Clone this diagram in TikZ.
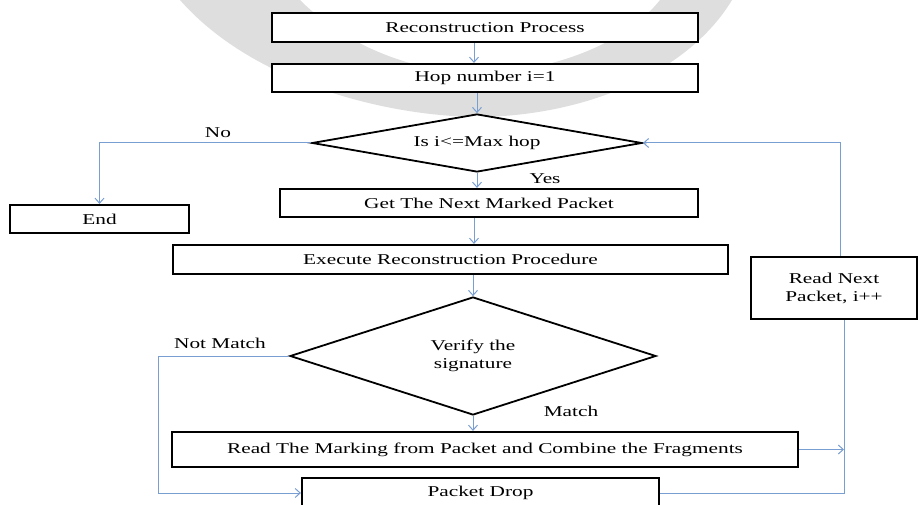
\documentclass[tikz,border=0pt]{standalone}
\usepackage{fontspec}
\setmainfont{Liberation Serif}[FakeStretch=1.42]
\usetikzlibrary{shapes.geometric,arrows.meta}
\definecolor{linkblue}{RGB}{120,158,210}
\definecolor{markgray}{RGB}{222,222,222}
\begin{document}
\begin{tikzpicture}[x=1pt,y=-1pt,
  font=\fontsize{15}{18}\selectfont,
  box/.style={draw=black, line width=2.2pt, fill=white, inner sep=0pt, align=center},
  dia/.style={draw=black, line width=1.8pt, fill=white, diamond, inner sep=0pt, align=center},
  conn/.style={draw=linkblue, line width=1pt, -{Straight Barb[length=5pt,width=9pt]}},
  link/.style={draw=linkblue, line width=1pt},
  lbl/.style={inner sep=0pt}]

\useasboundingbox (0,0) rectangle (918,505);

% faint background emblem
\fill[markgray, even odd rule]
  (180,0) .. controls (250,80) and (380,116) .. (478,117)
          .. controls (590,116) and (690,70) .. (732,0) -- cycle
  (300,0) .. controls (350,50) and (420,72) .. (478,74)
          .. controls (540,72) and (620,50) .. (660,0) -- cycle;

% process boxes
\node[box, minimum width=426pt, minimum height=29pt] (b1) at (485,27.5) {Reconstruction Process};
\node[box, minimum width=426pt, minimum height=28pt] (b2) at (485,78) {Hop number i=1};
\node[box, minimum width=418pt, minimum height=28pt] (b3) at (489,203) {Get The Next Marked Packet};
\node[box, minimum width=555pt, minimum height=29pt] (b4) at (450.5,259.5) {Execute Reconstruction Procedure};
\node[box, minimum width=626pt, minimum height=35pt] (b5) at (485,449.5) {Read The Marking from Packet and Combine the Fragments};
\node[box, minimum width=357pt, minimum height=30pt] (drop) at (480.5,493) {Packet Drop};
\node[box, minimum width=179pt, minimum height=28pt] (endb) at (99.5,219) {End};
\node[box, minimum width=166pt, minimum height=62pt] (rn) at (834,288) {Read Next\\Packet, i++};

% decisions
\node[dia, minimum width=330pt, minimum height=58pt, aspect=5.7] (d1) at (477,143) {Is i<=Max hop};
\node[dia, minimum width=366pt, minimum height=118pt, aspect=3.1] (d2) at (473,356) {Verify the\\signature};

% branch labels
\node[lbl] (lno) at (218,133) {No};
\node[lbl] (lyes) at (545,179) {Yes};
\node[lbl] (lnm) at (220,343) {Not Match};
\node[lbl] (lm) at (571,411) {Match};

% connectors
\coordinate (spine) at (474,0);
\coordinate (nmx) at (158,0);
\coordinate (rlow) at (844,0);
\coordinate (rup) at (840,0);
\draw[conn] (b1.south -| spine) -- (b2.north -| spine);
\draw[conn] (b2.south -| d1.north) -- (d1.north);
\draw[conn] (d1.south) -- (b3.north -| d1.south);
\draw[conn] (b3.south -| spine) -- (b4.north -| spine);
\draw[conn] (b4.south -| d2.north) -- (d2.north);
\draw[conn] (d2.south) -- (b5.north -| d2.south);
\draw[conn] (d1.west) -| (endb.north);
\draw[conn] (d2.west) -| (nmx |- drop.west) -- (drop.west);
\draw[conn] (b5.east) -- (b5.east -| rlow);
\draw[link] (drop.east) -| (rn.south -| rlow);
\draw[conn] (rn.north -| rup) |- (d1.east);
\end{tikzpicture}
\end{document}
